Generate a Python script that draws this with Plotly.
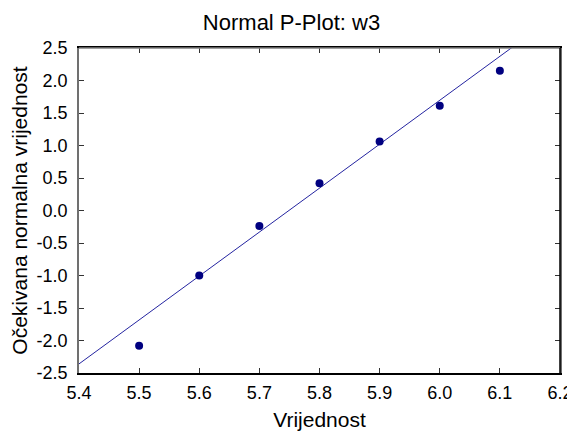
import plotly.graph_objects as go

# data
obs_values = [5.5, 5.6, 5.7, 5.8, 5.9, 6.0, 6.1]
expected_normal = [-2.08, -1.0, -0.24, 0.42, 1.06, 1.61, 2.15]

# fitted reference line (slope / intercept)
fit_slope = 6.76
fit_intercept = -38.864
x_range = [5.4, 6.2]
y_range = [-2.5, 2.5]

x_tickvals = [5.4, 5.5, 5.6, 5.7, 5.8, 5.9, 6.0, 6.1, 6.2]
x_ticktext = ["5.4", "5.5", "5.6", "5.7", "5.8", "5.9", "6.0", "6.1", "6.2"]
y_tickvals = [-2.5, -2.0, -1.5, -1.0, -0.5, 0.0, 0.5, 1.0, 1.5, 2.0, 2.5]
y_ticktext = ["-2.5", "-2.0", "-1.5", "-1.0", "-0.5", "0.0", "0.5", "1.0", "1.5", "2.0", "2.5"]

line_x = x_range
line_y = [fit_slope * v + fit_intercept for v in line_x]

FONT = "Arial, 'Liberation Sans', sans-serif"

fig = go.Figure()
fig.add_trace(go.Scatter(x=line_x, y=line_y, mode="lines",
                         line=dict(color="#2424a0", width=1), hoverinfo="skip",
                         showlegend=False))
fig.add_trace(go.Scatter(x=obs_values, y=expected_normal, mode="markers",
                         marker=dict(color="#000080", size=8), showlegend=False))

# page body has an 8px default margin, so the figure is sized to fit inside it
fig.update_layout(
    width=567, height=424,
    margin=dict(l=71, r=15, t=40, b=59),
    paper_bgcolor="white", plot_bgcolor="white",
    font=dict(family=FONT, color="black"),
    title=dict(text="Normal P-Plot: w3", x=0.5, xanchor="center",
               y=1 - 14 / 424, yanchor="middle", yref="container",
               font=dict(size=22, family=FONT, color="black")),
    xaxis=dict(range=x_range, tickvals=x_tickvals, ticktext=x_ticktext,
               automargin=False,
               showgrid=False, zeroline=False, showline=True,
               linecolor="black", linewidth=1.5, mirror="ticks",
               ticks="inside", ticklen=5, tickcolor="#333",
               ticklabelstandoff=3,
               tickfont=dict(size=18, family=FONT, color="black"),
               title=dict(text="Vrijednost", standoff=10,
                          font=dict(size=21, family=FONT, color="black"))),
    yaxis=dict(range=y_range, tickvals=y_tickvals, ticktext=y_ticktext,
               automargin=False,
               showgrid=False, zeroline=False, showline=True,
               linecolor="#707070", linewidth=1.5, mirror="ticks",
               ticks="inside", ticklen=5, tickcolor="#333",
               ticklabelstandoff=6,
               tickfont=dict(size=18, family=FONT, color="black"),
               title=dict(text="Očekivana normalna vrijednost", standoff=6,
                          font=dict(size=21, family=FONT, color="black"))),
    shapes=[
        dict(type="line", xref="paper", yref="paper", x0=0, x1=1, y0=1, y1=1,
             line=dict(color="#808080", width=1.5), layer="above"),
        dict(type="line", xref="paper", yref="paper", x0=1, x1=1, y0=0, y1=1,
             line=dict(color="black", width=1.5), layer="above"),
    ],
)

fig.write_html("out.html")
